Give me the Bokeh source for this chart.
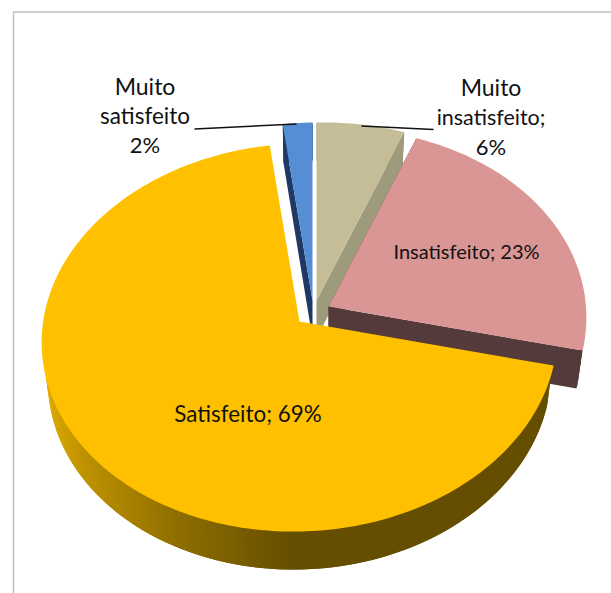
import math
from bokeh.embed import file_html
from bokeh.models import Range1d
from bokeh.plotting import figure
from bokeh.resources import INLINE
from bokeh.core.properties import value

# Survey answers, in drawing order clockwise from twelve o'clock
categories = ["Muito insatisfeito", "Insatisfeito", "Satisfeito", "Muito satisfeito"]
shares = [6, 23, 69, 2]
top_colors = ["#C4BD97", "#DA9694", "#FFC000", "#558ED5"]
wall_colors = ["#9E9A7C", "#553A3B", "#644E00", "#1F3864"]

# Where each exploded wedge has its point on the page
apex_x = [316, 328, 299, 312]
apex_y = [300, 306, 321, 300]

# Tilted-disc projection of the pie
RX = 257.0
RY = 192.7
PERSP = 0.0825
SHEAR = -5.0
DEPTH = 38.0
SHRINK = 0.976


def rim(ax, ay, deg):
    t = math.radians(deg)
    sx, sy = math.sin(t), math.cos(t)
    w = 1 + PERSP * sy
    return ax + RX * sx / w, ay - RY * sy / w + SHEAR * sx


def lower(ax, pt):
    return ax + SHRINK * (pt[0] - ax), pt[1] + DEPTH


def inset(ax, ay, pt):
    # a point just inside the top face, so walls never fringe its edge
    return pt[0] + (ax - pt[0]) * 0.005, pt[1] + (ay - pt[1]) * 0.005


def mix(stops, x):
    if x <= stops[0][0]:
        c = stops[0][1]
    elif x >= stops[-1][0]:
        c = stops[-1][1]
    else:
        for (x0, c0), (x1, c1) in zip(stops, stops[1:]):
            if x0 <= x <= x1:
                f = (x - x0) / (x1 - x0)
                c = tuple(a + (b - a) * f for a, b in zip(c0, c1))
                break
    return "#%02X%02X%02X" % tuple(int(round(v)) for v in c)


# Shading along the front wall of the largest wedge, left to right
wall_shade = [(42, (222, 170, 0)), (80, (190, 146, 0)), (170, (145, 112, 0)), (290, (101, 78, 0))]

p = figure(width=611, height=593, output_backend="svg", toolbar_location=None,
           x_range=Range1d(0, 611), y_range=Range1d(593, 0),
           min_border=0, outline_line_color=None, background_fill_color="white")
p.axis.visible = False
p.grid.visible = False

# Frame of the chart area
p.line([13, 13, 611], [593, 11.5, 11.5], line_color="#BFBFBF", line_width=1.5)

total = sum(shares)
edges = [0.0]
for s in shares:
    edges.append(edges[-1] + 360.0 * s / total)

# Back-to-front so nearer wedges cover the walls behind them
for i in [0, 3, 1, 2]:
    a0, a1 = edges[i], edges[i + 1]
    ax, ay = apex_x[i], apex_y[i]
    n = max(4, int((a1 - a0) / 1.0))
    degs = [a0 + (a1 - a0) * k / n for k in range(n + 1)]
    arc = [rim(ax, ay, d) for d in degs]

    # radial walls at both cut faces
    for end in (arc[0], arc[-1]):
        if i == 2:
            continue
        quad = [(ax, ay), end, lower(ax, end), lower(ax, (ax, ay))]
        p.patch([q[0] for q in quad], [q[1] for q in quad],
                fill_color=wall_colors[i], line_color=None)

    # outer wall: each narrow strip runs under the next one, so no seams show
    for j in range(n):
        a, b = arc[j], arc[min(j + 2, n)]
        quad = [inset(ax, ay, a), inset(ax, ay, b), lower(ax, b), lower(ax, a)]
        xm = (a[0] + arc[j + 1][0]) / 2
        col = mix(wall_shade, xm) if i == 2 else wall_colors[i]
        p.patch([q[0] for q in quad], [q[1] for q in quad], fill_color=col, line_color=None)

    # top face
    p.patch([ax] + [q[0] for q in arc], [ay] + [q[1] for q in arc],
            fill_color=top_colors[i], line_color=None)

# Leader lines of the outside labels
p.line([194, 296], [128.5, 123.5], line_color="#111111", line_width=1.5)
p.line([361, 433], [125.5, 129], line_color="#111111", line_width=1.5)

label_font = value("Lato")
label_rows = [
    ("Muito", 144.5, 85, "23px"), ("satisfeito", 144.5, 114.5, "22.5px"), ("2%", 144.5, 144, "22px"),
    ("Muito", 490.5, 86.5, "23px"), ("insatisfeito;", 490.5, 116, "21.5px"), ("6%", 490.5, 146, "22px"),
    ("Insatisfeito; 23%", 466, 250, "20px"), ("Satisfeito; 69%", 247.5, 413, "22.4px"),
]
for txt, x, y, size in label_rows:
    p.text([x], [y], text=[txt], text_font=label_font, text_font_size=value(size),
           text_align="center", text_baseline="middle", text_color="#111111")

open("out.html", "w").write(file_html(p, INLINE))
